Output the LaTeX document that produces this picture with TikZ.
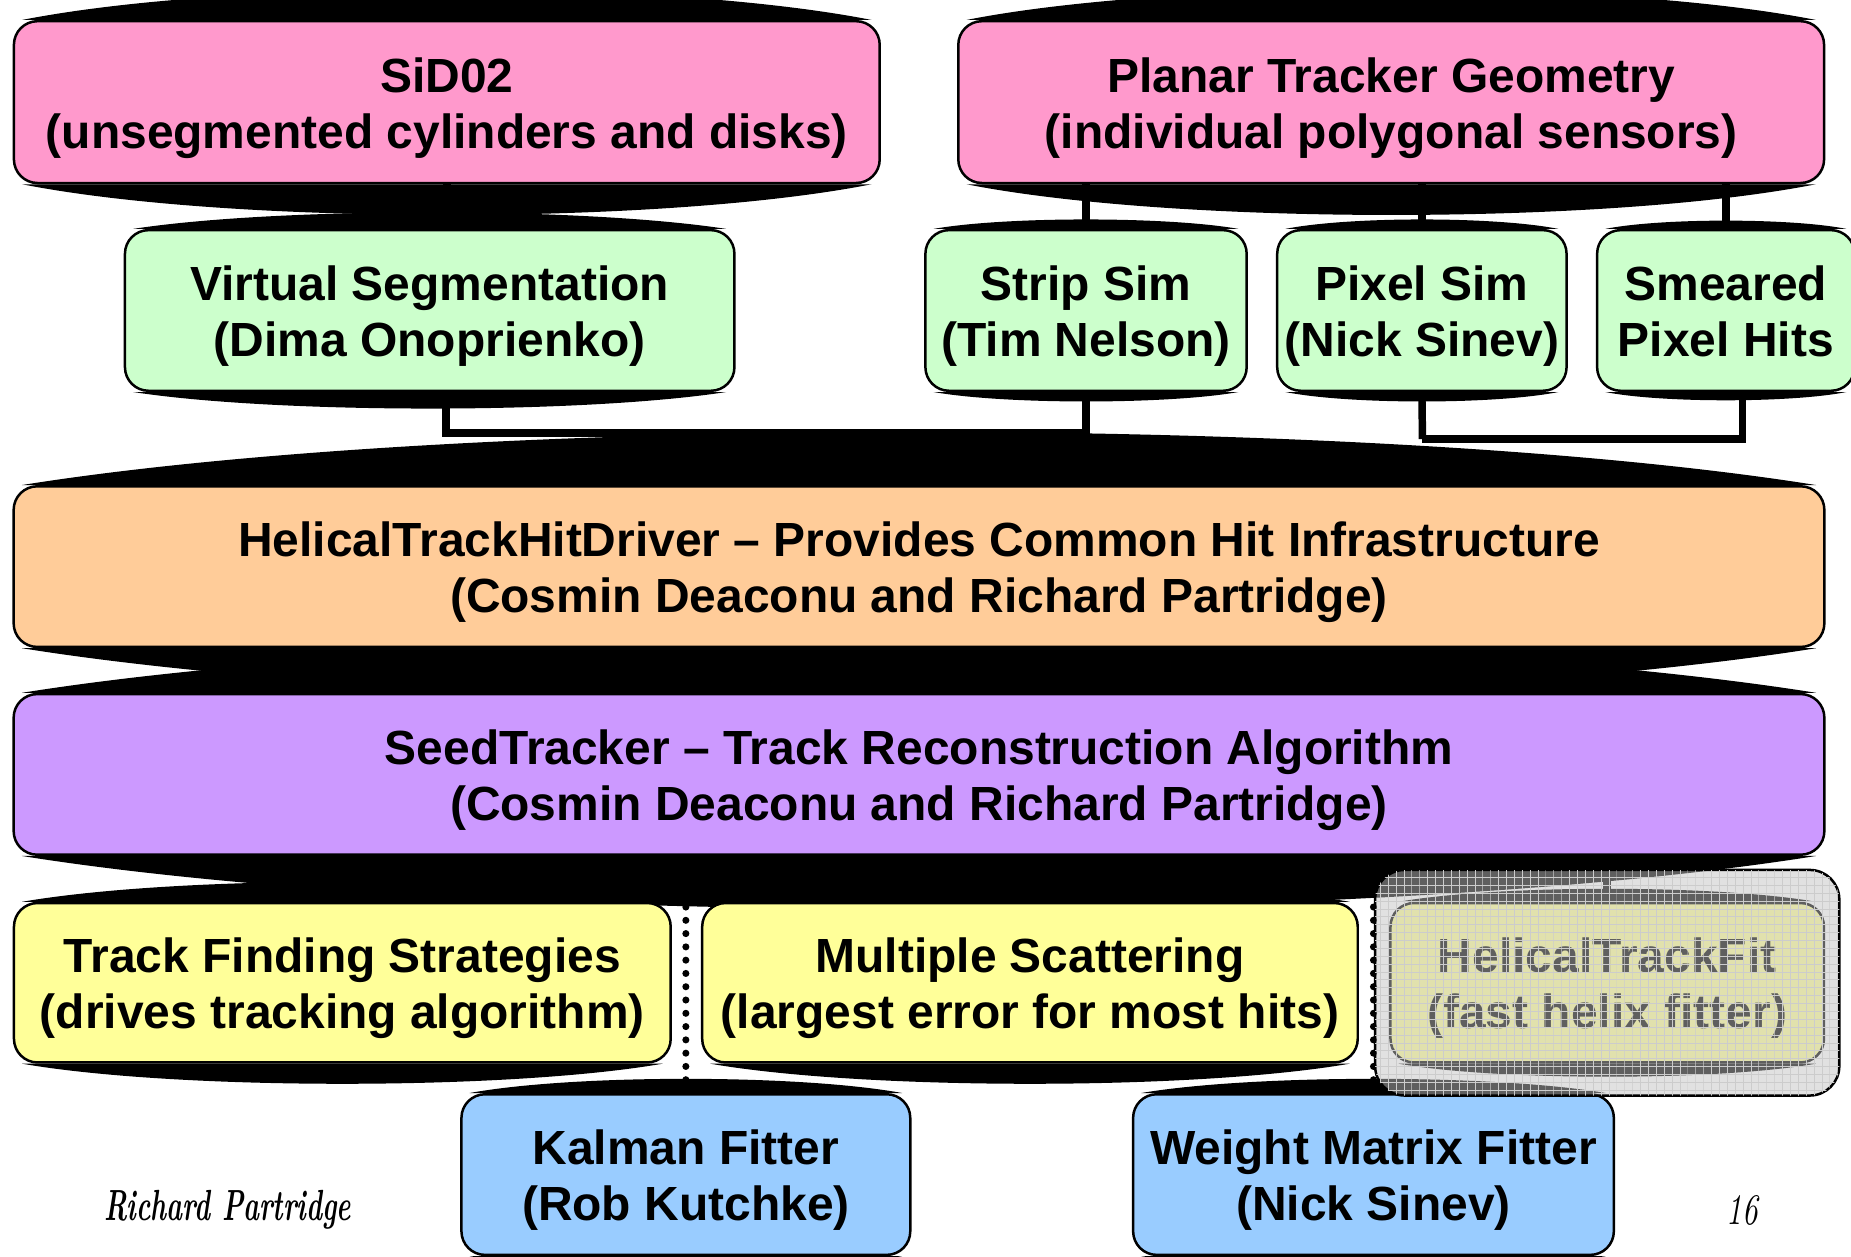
\documentclass[tikz,border=0pt]{standalone}
\usepackage{fontspec}
\setsansfont{Liberation Sans}
\usepackage{graphicx}
\usepackage{tikz}
\usetikzlibrary{calc, patterns, backgrounds}

\definecolor{pinkbox}{HTML}{FF99CC}
\definecolor{greenbox}{HTML}{CCFFCC}
\definecolor{orangebox}{HTML}{FFCC99}
\definecolor{purplebox}{HTML}{CC99FF}
\definecolor{yellowbox}{HTML}{FFFF99}
\definecolor{bluebox}{HTML}{99CCFF}

\newcommand{\topline}{\rule{0pt}{11.7pt}}

\pgfdeclarepatternformonly{finegrid}{\pgfqpoint{-0.1pt}{-0.1pt}}{\pgfqpoint{2pt}{2pt}}{\pgfqpoint{1.9pt}{1.9pt}}{%
    \pgfsetlinewidth{0.22pt}
    \pgfpathmoveto{\pgfqpoint{0pt}{0pt}}\pgfpathlineto{\pgfqpoint{1.9pt}{0pt}}
    \pgfpathmoveto{\pgfqpoint{0pt}{0pt}}\pgfpathlineto{\pgfqpoint{0pt}{1.9pt}}
    \pgfusepath{stroke}}

\tikzset{
    box/.style={draw=black, line width=0.6pt, fill=#1, rounded corners=0.2cm,
        align=center, inner sep=0pt,
        font=\sffamily\bfseries\fontsize{11.55}{13.43}\selectfont,
        execute at end node={\rule[-3pt]{0pt}{3pt}}},
    conn/.style={line width=1.8pt},
    dotline/.style={line width=1.7pt, line cap=round, dash pattern=on 0pt off 3.2pt},
    greyout/.style={draw=black, line width=0.6pt, rounded corners=0.25cm,
        fill=gray!48, fill opacity=0.49,
        postaction={pattern=finegrid, pattern color=gray!40, fill opacity=0.6}}
}

% black pillow above and below a box
\newcommand{\pillow}[2]{%
    \fill[black] ($(#1.north west)+(8,0)$)
        .. controls ($(#1.north west)!0.25!(#1.north east)+(0,{-4/3*#2})$)
        and ($(#1.north west)!0.75!(#1.north east)+(0,{-4/3*#2})$)
        .. ($(#1.north east)+(-8,0)$) -- cycle;
    \fill[black] ($(#1.south west)+(8,0)$)
        .. controls ($(#1.south west)!0.25!(#1.south east)+(0,{4/3*#2})$)
        and ($(#1.south west)!0.75!(#1.south east)+(0,{4/3*#2})$)
        .. ($(#1.south east)+(-8,0)$) -- cycle;
}

\begin{document}
\begin{tikzpicture}[x=0.01cm, y=-0.01cm]
    \useasboundingbox (0,0) rectangle (1568,1064);

    \node[box=pinkbox, minimum width=7.33cm, minimum height=1.37cm] (sid) at (378.5,86.5)
        {\topline SiD02\\(unsegmented cylinders and disks)};
    \node[box=pinkbox, minimum width=7.33cm, minimum height=1.37cm] (ptg) at (1178.5,86.5)
        {\topline Planar Tracker Geometry\\(individual polygonal sensors)};

    \node[box=greenbox, minimum width=5.16cm, minimum height=1.36cm] (vs) at (364,263)
        {\topline Virtual Segmentation\\(Dima Onoprienko)};
    \node[box=greenbox, minimum width=2.72cm, minimum height=1.36cm] (strip) at (920,263)
        {\topline Strip Sim\\(Tim Nelson)};
    \node[box=greenbox, minimum width=2.45cm, minimum height=1.36cm] (pixel) at (1204.5,263)
        {\topline Pixel Sim\\(Nick Sinev)};
    \node[box=greenbox, minimum width=2.18cm, minimum height=1.36cm] (smear) at (1462,263)
        {\topline Smeared\\Pixel Hits};

    \node[box=orangebox, minimum width=15.33cm, minimum height=1.36cm] (hd) at (778.5,480)
        {\topline HelicalTrackHitDriver -- Provides Common Hit Infrastructure\\(Cosmin Deaconu and Richard Partridge)};
    \node[box=purplebox, minimum width=15.33cm, minimum height=1.36cm] (sd) at (778.5,656)
        {\topline SeedTracker -- Track Reconstruction Algorithm\\(Cosmin Deaconu and Richard Partridge)};

    \node[box=yellowbox, minimum width=5.56cm, minimum height=1.35cm] (tfs) at (290,832.5)
        {\topline Track Finding Strategies\\(drives tracking algorithm)};
    \node[box=yellowbox, minimum width=5.55cm, minimum height=1.35cm] (ms) at (872.5,832.5)
        {\topline Multiple Scattering\\(largest error for most hits)};
    \node[box=yellowbox, minimum width=3.67cm, minimum height=1.35cm] (htf) at (1361.5,832.5)
        {\topline HelicalTrackFit\\(fast helix fitter)};

    \node[box=bluebox, minimum width=3.80cm, minimum height=1.36cm] (kal) at (581,995)
        {\topline Kalman Fitter\\(Rob Kutchke)};
    \node[box=bluebox, minimum width=4.07cm, minimum height=1.36cm] (wmf) at (1163.5,995)
        {\topline Weight Matrix Fitter\\(Nick Sinev)};

    \node[greyout, minimum width=3.93cm, minimum height=1.91cm] (grey) at (1361.5,832.5) {};

    \node (sig) at (193,1025) {\scalebox{0.62}[1]{\rmfamily\bfseries\itshape\fontsize{10.5}{12}\selectfont Richard Partridge}};
    \node (pg) at (1476,1025) {\scalebox{0.7}[1]{\rmfamily\itshape\fontsize{10.5}{12}\selectfont 16}};

    \begin{pgfonlayer}{background}
        \pillow{sid}{26}
        \pillow{ptg}{26}
        \pillow{vs}{14}
        \pillow{strip}{8}
        \pillow{pixel}{8}
        \pillow{smear}{7}
        \pillow{hd}{45}
        \pillow{sd}{45}
        \pillow{tfs}{17}
        \pillow{ms}{17}
        \pillow{htf}{11}
        \pillow{kal}{12}
        \pillow{wmf}{12}

        \coordinate (bus) at (785,367);
        \coordinate (vsout) at (378,331);
        \coordinate (smearout) at (1476,331);
        \coordinate (smearbus) at (1205,372);

        \draw[conn] (sid.south) -- (sid.south |- vs.north);
        \draw[conn] (strip.north) -- (strip.north |- ptg.south);
        \draw[conn] (pixel.north) -- (pixel.north |- ptg.south);
        \draw[conn] (smear.north) -- (smear.north |- ptg.south);

        \draw[conn] (vsout) |- (bus) -- (bus |- hd.north);
        \draw[conn] (strip.south) |- (bus);
        \draw[conn] (pixel.south) -- (smearbus);
        \draw[conn] (smearout) |- (smearbus);

        \draw[conn] (tfs.north) -- (tfs.north |- sd.south);
        \draw[conn] (ms.north) -- (ms.north |- sd.south);
        \draw[conn] (htf.north) -- (htf.north |- sd.south);
        \draw[dotline] (kal.north) -- (kal.north |- sd.south);
        \draw[dotline] (wmf.north) -- (wmf.north |- sd.south);
    \end{pgfonlayer}
\end{tikzpicture}
\end{document}
